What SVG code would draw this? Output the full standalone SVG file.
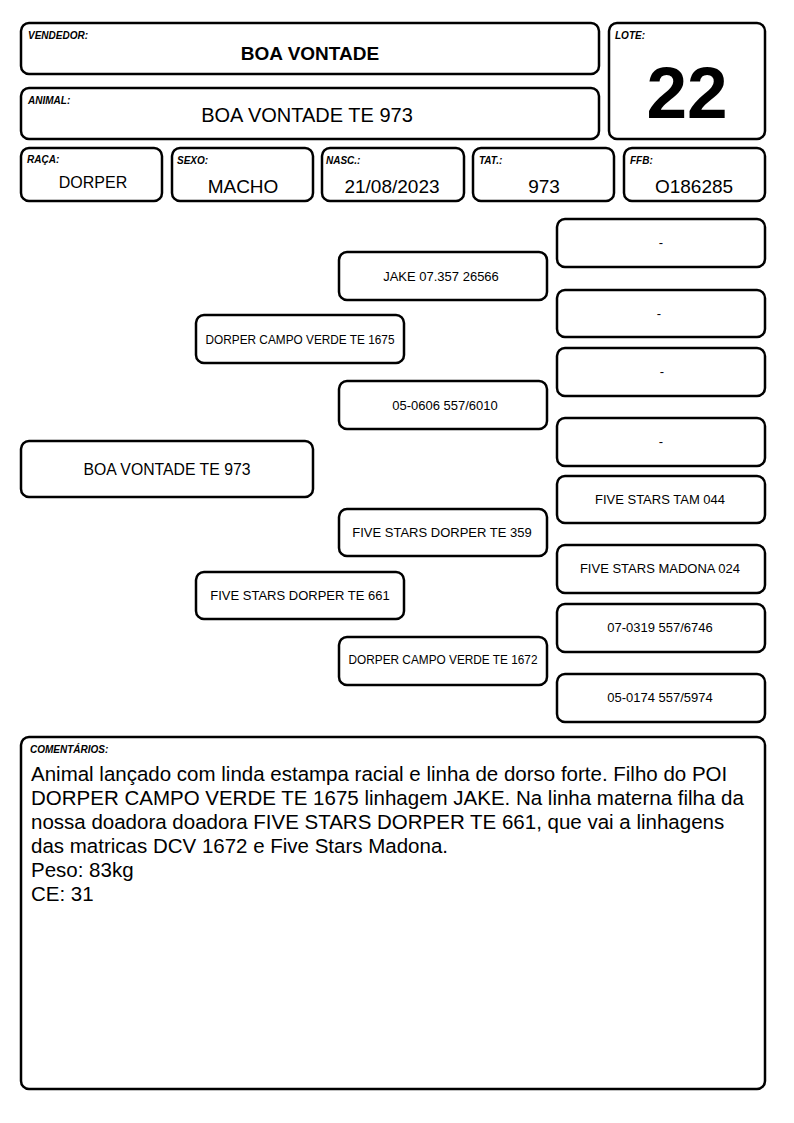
<svg xmlns="http://www.w3.org/2000/svg" width="794" height="1123" viewBox="0 0 794 1123">
<style>
.b{fill:#fff;stroke:#000;stroke-width:2.5}
text{font-family:"Liberation Sans",Arial,sans-serif;fill:#000}
.lb{font-size:10px;font-weight:bold;font-style:italic}
.v{font-size:19px;text-anchor:middle}
.p{font-size:13px;text-anchor:middle}
.c{font-size:20.5px}
</style>
<rect width="794" height="1123" fill="#fff"/>
<g id="vendedor"><rect class="b" x="21" y="23" width="578" height="51" rx="8"/><text class="lb" x="28" y="39">VENDEDOR:</text><text x="310" y="60" style="font-size:19px;font-weight:bold;text-anchor:middle">BOA VONTADE</text></g>
<g id="lote"><rect class="b" x="609" y="23" width="156" height="116" rx="8"/><text class="lb" x="615" y="39">LOTE:</text><text x="687" y="118" style="font-size:73px;font-weight:bold;text-anchor:middle">22</text></g>
<g id="animal"><rect class="b" x="21" y="88" width="578" height="51" rx="8"/><text class="lb" x="28" y="104">ANIMAL:</text><text x="307" y="122" style="font-size:20px;text-anchor:middle">BOA VONTADE TE 973</text></g>
<g id="raca"><rect class="b" x="21" y="148" width="141" height="53" rx="8"/><text class="lb" x="27" y="163">RAÇA:</text><text x="93" y="188" style="font-size:16px;text-anchor:middle">DORPER</text></g>
<g id="sexo"><rect class="b" x="172" y="148" width="141" height="53" rx="8"/><text class="lb" x="177" y="164">SEXO:</text><text class="v" x="243" y="193">MACHO</text></g>
<g id="nasc"><rect class="b" x="322" y="148" width="142" height="53" rx="8"/><text class="lb" x="326" y="164">NASC.:</text><text class="v" x="392" y="193">21/08/2023</text></g>
<g id="tat"><rect class="b" x="473" y="148" width="141" height="53" rx="8"/><text class="lb" x="479" y="164">TAT.:</text><text class="v" x="544" y="193">973</text></g>
<g id="ffb"><rect class="b" x="624" y="148" width="141" height="53" rx="8"/><text class="lb" x="630" y="164">FFB:</text><text class="v" x="694" y="193">O186285</text></g>

<g id="connectors"></g>

<g id="ped-animal"><rect class="b" x="21" y="441" width="292" height="56" rx="8"/><text x="167" y="475" style="font-size:16px;text-anchor:middle" textLength="167" lengthAdjust="spacingAndGlyphs">BOA VONTADE TE 973</text></g>
<g id="pai"><rect class="b" x="196" y="315" width="208" height="48" rx="8"/><text class="p" x="300" y="344" textLength="189" lengthAdjust="spacingAndGlyphs">DORPER CAMPO VERDE TE 1675</text></g>
<g id="mae"><rect class="b" x="196" y="572" width="208" height="47" rx="8"/><text class="p" x="300" y="600">FIVE STARS DORPER TE 661</text></g>
<g id="avo-pp"><rect class="b" x="339" y="252" width="208" height="48" rx="8"/><text class="p" x="441" y="281">JAKE 07.357 26566</text></g>
<g id="avo-pm"><rect class="b" x="339" y="381" width="208" height="48" rx="8"/><text class="p" x="445" y="410">05-0606 557/6010</text></g>
<g id="avo-mp"><rect class="b" x="339" y="509" width="208" height="47" rx="8"/><text class="p" x="442" y="537">FIVE STARS DORPER TE 359</text></g>
<g id="avo-mm"><rect class="b" x="339" y="637" width="208" height="48" rx="8"/><text class="p" x="443" y="664" textLength="189" lengthAdjust="spacingAndGlyphs">DORPER CAMPO VERDE TE 1672</text></g>
<g id="bis1"><rect class="b" x="557" y="219" width="208" height="48" rx="8"/><text class="p" x="661" y="247">-</text></g>
<g id="bis2"><rect class="b" x="557" y="290" width="208" height="47" rx="8"/><text class="p" x="659" y="318">-</text></g>
<g id="bis3"><rect class="b" x="557" y="348" width="208" height="48" rx="8"/><text class="p" x="662" y="376">-</text></g>
<g id="bis4"><rect class="b" x="557" y="418" width="208" height="48" rx="8"/><text class="p" x="661" y="446">-</text></g>
<g id="bis5"><rect class="b" x="557" y="476" width="208" height="47" rx="8"/><text class="p" x="660" y="504">FIVE STARS TAM 044</text></g>
<g id="bis6"><rect class="b" x="557" y="545" width="208" height="48" rx="8"/><text class="p" x="660" y="573">FIVE STARS MADONA 024</text></g>
<g id="bis7"><rect class="b" x="557" y="604" width="208" height="48" rx="8"/><text class="p" x="660" y="632">07-0319 557/6746</text></g>
<g id="bis8"><rect class="b" x="557" y="674" width="208" height="48" rx="8"/><text class="p" x="660" y="702">05-0174 557/5974</text></g>

<g id="comentarios"><rect class="b" x="21" y="737" width="744" height="352" rx="8"/><text class="lb" x="30" y="753">COMENTÁRIOS:</text>
<text class="c" x="31" y="781">Animal lançado com linda estampa racial e linha de dorso forte. Filho do POI</text>
<text class="c" x="31" y="805">DORPER CAMPO VERDE TE 1675 linhagem JAKE. Na linha materna filha da</text>
<text class="c" x="31" y="829">nossa doadora doadora FIVE STARS DORPER TE 661, que vai a linhagens</text>
<text class="c" x="31" y="853">das matricas DCV 1672 e Five Stars Madona.</text>
<text class="c" x="31" y="877">Peso: 83kg</text>
<text class="c" x="31" y="901">CE: 31</text>
</g>
</svg>
